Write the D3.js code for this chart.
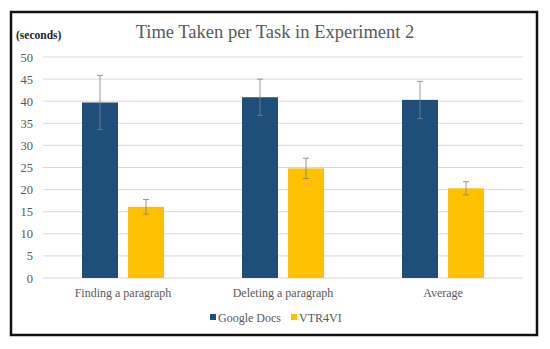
<!DOCTYPE html>
<html>
<head>
<meta charset="utf-8">
<script src="https://cdn.jsdelivr.net/npm/d3@7"></script>
<style>
  body { margin: 0; background: #fff; }
</style>
</head>
<body>
<div id="chart"></div>
<script>
const categories = ["Finding a paragraph", "Deleting a paragraph", "Average"];
const seriesNames = ["Google Docs", "VTR4VI"];
const googleDocs = [39.7, 40.9, 40.3];
const vtr4vi = [16.1, 24.8, 20.3];
const googleErr = [6.1, 4.1, 4.2];
const vtrErr = [1.65, 2.3, 1.5];
const yTicks = [0, 5, 10, 15, 20, 25, 30, 35, 40, 45, 50];

const FONT = "Liberation Serif, DejaVu Serif, serif";
const colors = ["#1f4e79", "#ffc000"];
const W = 550, H = 349;
const margin = {top: 57, right: 27, bottom: 71, left: 43};
const width = W - margin.left - margin.right;
const height = H - margin.top - margin.bottom;

const svg = d3.select("#chart").append("svg")
    .attr("width", W)
    .attr("height", H)
    .style("font-family", FONT);

// outer frame
svg.append("rect")
    .attr("x", 11).attr("y", 12)
    .attr("width", 526).attr("height", 323)
    .attr("fill", "#fff")
    .attr("stroke", "#111")
    .attr("stroke-width", 2.5);

const g = svg.append("g")
    .attr("transform", `translate(${margin.left}, ${margin.top})`);

const x = d3.scaleBand().domain(categories).range([0, width]);
const y = d3.scaleLinear().domain([0, 50]).range([height, 0]);

// gridlines
g.selectAll(".grid")
    .data(yTicks)
    .join("line")
    .attr("x1", 0).attr("x2", width)
    .attr("y1", d => y(d)).attr("y2", d => y(d))
    .attr("stroke", "#d9d9d9")
    .attr("stroke-width", 1);

// y axis labels
const yAxis = g.append("g").call(d3.axisLeft(y).tickValues(yTicks).tickSize(0).tickPadding(10));
yAxis.attr("font-family", null);
yAxis.select(".domain").remove();
yAxis.selectAll("text")
    .attr("fill", "#595959")
    .style("font-family", FONT)
    .style("font-size", "12.5px");

// bars
const data = categories.map((c, i) => ({
    cat: c,
    vals: [
        {s: 0, v: googleDocs[i], e: googleErr[i]},
        {s: 1, v: vtr4vi[i], e: vtrErr[i]}
    ]
}));

const barW = 36, gap = 10;
const xOff = s => x.bandwidth() / 2 - (barW * 2 + gap) / 2 + s * (barW + gap);

const groups = g.selectAll(".grp")
    .data(data)
    .join("g")
    .attr("transform", d => `translate(${x(d.cat)}, 0)`);

groups.selectAll("rect")
    .data(d => d.vals)
    .join("rect")
    .attr("x", d => xOff(d.s))
    .attr("width", barW)
    .attr("y", d => y(d.v))
    .attr("height", d => height - y(d.v))
    .attr("fill", d => colors[d.s]);

// error bars
const errs = groups.selectAll(".err")
    .data(d => d.vals)
    .join("g")
    .attr("stroke", "#808080")
    .attr("stroke-width", 0.8);
errs.append("line")
    .attr("x1", d => xOff(d.s) + barW / 2).attr("x2", d => xOff(d.s) + barW / 2)
    .attr("y1", d => y(d.v + d.e)).attr("y2", d => y(d.v - d.e));
errs.append("line")
    .attr("x1", d => xOff(d.s) + barW / 2 - 3).attr("x2", d => xOff(d.s) + barW / 2 + 3)
    .attr("y1", d => y(d.v + d.e)).attr("y2", d => y(d.v + d.e));
errs.append("line")
    .attr("x1", d => xOff(d.s) + barW / 2 - 3).attr("x2", d => xOff(d.s) + barW / 2 + 3)
    .attr("y1", d => y(d.v - d.e)).attr("y2", d => y(d.v - d.e));

// x axis labels
const xAxis = g.append("g")
    .attr("transform", `translate(0, ${height})`)
    .call(d3.axisBottom(x).tickSize(0).tickPadding(10));
xAxis.attr("font-family", null);
xAxis.select(".domain").remove();
xAxis.selectAll("text")
    .attr("fill", "#595959")
    .style("font-family", FONT)
    .style("font-size", "12px");

// title
svg.append("text")
    .attr("x", 275)
    .attr("y", 38)
    .attr("text-anchor", "middle")
    .attr("fill", "#595959")
    .style("font-family", FONT)
    .style("font-size", "18.5px")
    .text("Time Taken per Task in Experiment 2");

// unit label
svg.append("text")
    .attr("x", 16)
    .attr("y", 39)
    .attr("fill", "#222")
    .style("font-family", FONT)
    .style("font-size", "11.5px")
    .style("font-weight", "bold")
    .text("(seconds)");

// legend
const legend = svg.append("g").attr("transform", "translate(210, 317)");
const lx = [0, 81];
seriesNames.forEach((n, i) => {
    legend.append("rect")
        .attr("x", lx[i]).attr("y", -3)
        .attr("width", 6).attr("height", 6)
        .attr("fill", colors[i]);
    legend.append("text")
        .attr("x", lx[i] + 8).attr("y", 4.5)
        .attr("fill", "#595959")
        .style("font-family", FONT)
        .style("font-size", "12px")
        .text(n);
});
</script>
</body>
</html>
